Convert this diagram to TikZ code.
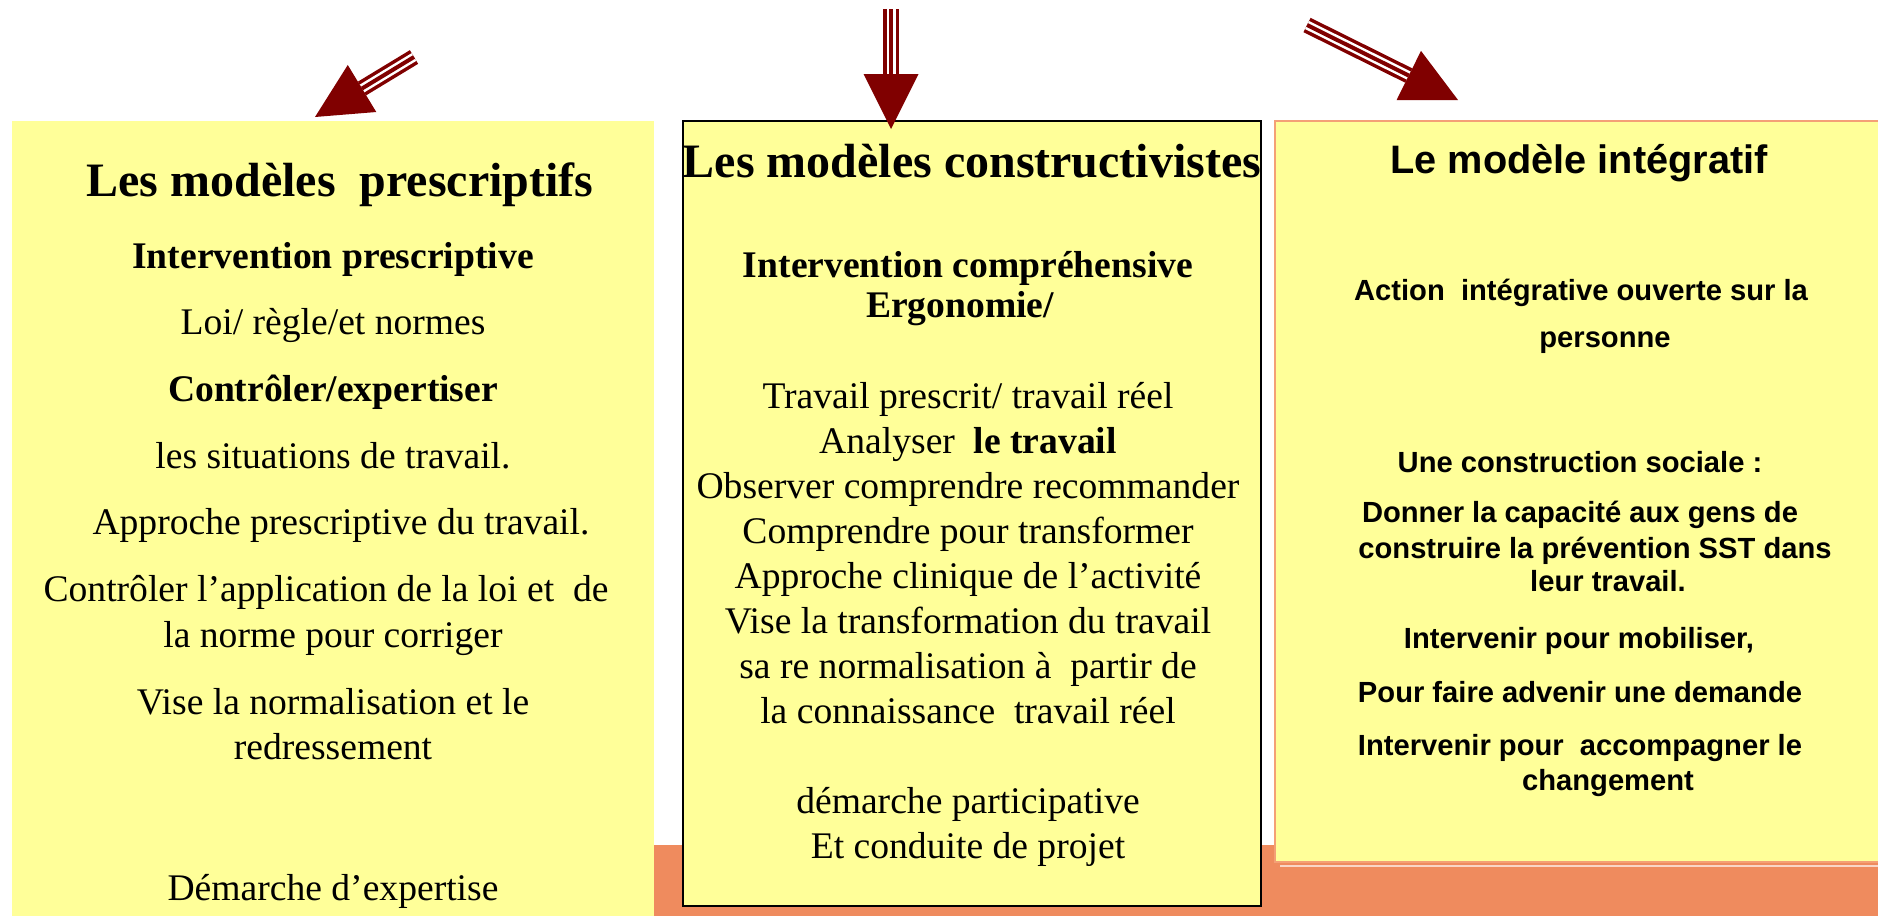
\documentclass[tikz,border=0pt]{standalone}
\usepackage{fontspec}
\setmainfont{Liberation Serif}
\newfontfamily\arialfont{Liberation Sans}
\usetikzlibrary{calc}

\definecolor{paleyellow}{RGB}{255,255,153}
\definecolor{bandorange}{RGB}{239,139,94}
\definecolor{salmonline}{RGB}{244,160,118}
\definecolor{darkred}{RGB}{128,0,0}

\newcommand{\titlefont}{\fontsize{27.3}{32}\selectfont\bfseries}
\newcommand{\bodyfont}{\fontsize{21.4}{25}\selectfont}
\newcommand{\rtitlefont}{\arialfont\fontsize{22.6}{27}\selectfont\bfseries}
\newcommand{\rbodyfont}{\arialfont\fontsize{16.6}{20}\selectfont\bfseries}

% striped arrow from #1 (tail) to #2 (tip)
\newcommand{\stripedarrow}[2]{%
  \coordinate (hb) at ($(#2)!1.1cm!(#1)$);
  \draw[darkred, line width=9.1pt] (#1) -- (hb);
  \draw[white, double=darkred, line width=1.42pt, double distance=2.28pt] (#1) -- (hb);
  \fill[darkred] (#2) -- ($(hb)!0.55cm!90:(#2)$) -- ($(hb)!0.55cm!-90:(#2)$) -- cycle;
}

\begin{document}
\begin{tikzpicture}[x=0.02cm, y=-0.02cm,
    txt/.style={anchor=base, inner sep=0pt, font=\bodyfont},
    rtxt/.style={anchor=base, inner sep=0pt, font=\rbodyfont}]
  \useasboundingbox (0,0) rectangle (1878,916);

  % boxes
  \fill[bandorange] (654,845) rectangle (1878,916);
  \fill[paleyellow] (12,121) rectangle (654,916);
  \draw[line width=1.2pt, fill=paleyellow] (683,121) rectangle (1261,906);
  \draw[salmonline, line width=1.2pt, fill=paleyellow] (1275,121) rectangle (1882,862);
  \draw[white!65!bandorange, line width=0.6pt] (1280,866) -- (1878,866);

  % prescriptive models
  \node[txt, font=\titlefont] (presTitle) at (340,196) {Les modèles~ prescriptifs};
  \node[txt, font=\bodyfont\bfseries] (presA) at (333,268) {Intervention prescriptive};
  \node[txt] (presB) at (333,334) {Loi/ règle/et normes};
  \node[txt, font=\bodyfont\bfseries] (presC) at (333,401) {Contrôler/expertiser};
  \node[txt] (presD) at (333,468) {les situations de travail.};
  \node[txt] (presE) at (341,534) {Approche prescriptive du travail.};
  \node[txt] (presF) at (326,601) {Contrôler l’application de la loi et~ de};
  \node[txt] (presG) at (333,647) {la norme pour corriger};
  \node[txt] (presH) at (333,714) {Vise la normalisation et le};
  \node[txt] (presI) at (333,759) {redressement};
  \node[txt] (presJ) at (333,900) {Démarche d’expertise};

  % constructivist models
  \node[txt, font=\titlefont] (consTitle) at (972,177) {Les modèles constructivistes};
  \node[txt, font=\bodyfont\bfseries] (consA) at (968,277) {Intervention compréhensive};
  \node[txt, font=\bodyfont\bfseries] (consB) at (960,317) {Ergonomie/};
  \node[txt] (consC) at (968,408) {Travail prescrit/ travail réel};
  \node[txt] (consD) at (968,453) {Analyser~ \textbf{le travail}};
  \node[txt] (consE) at (968,498) {Observer comprendre recommander};
  \node[txt] (consF) at (968,543) {Comprendre pour transformer};
  \node[txt] (consG) at (968,588) {Approche clinique de l’activité};
  \node[txt] (consH) at (968,633) {Vise la transformation du travail};
  \node[txt] (consI) at (968,678) {sa re normalisation à~ partir de};
  \node[txt] (consJ) at (968,723) {la connaissance~ travail réel};
  \node[txt] (consK) at (968,813) {démarche participative};
  \node[txt] (consL) at (968,858) {Et conduite de projet};

  % integrative model
  \node[txt, font=\rtitlefont] (intTitle) at (1579,173) {Le modèle intégratif};
  \node[rtxt] (intA) at (1581,300) {Action~ intégrative ouverte sur la};
  \node[rtxt] (intB) at (1605,347) {personne};
  \node[rtxt] (intC) at (1580,472) {Une construction sociale :};
  \node[rtxt] (intD) at (1580,522) {Donner la capacité aux gens de};
  \node[rtxt] (intE) at (1595,558) {construire la prévention SST dans};
  \node[rtxt] (intF) at (1608,591) {leur travail.};
  \node[rtxt] (intG) at (1579,648) {Intervenir pour mobiliser,};
  \node[rtxt] (intH) at (1580,702) {Pour faire advenir une demande};
  \node[rtxt] (intI) at (1580,755) {Intervenir pour~ accompagner le};
  \node[rtxt] (intJ) at (1608,790) {changement};

  % arrows
  \coordinate (presTail) at (414,57);
  \coordinate (presTip) at (315,117);
  \coordinate (consTail) at (891,9);
  \coordinate (consTip) at (891,129);
  \coordinate (intTail) at (1307,25);
  \coordinate (intTip) at (1458,100);
  \stripedarrow{presTail}{presTip}
  \stripedarrow{consTail}{consTip}
  \stripedarrow{intTail}{intTip}
\end{tikzpicture}
\end{document}
